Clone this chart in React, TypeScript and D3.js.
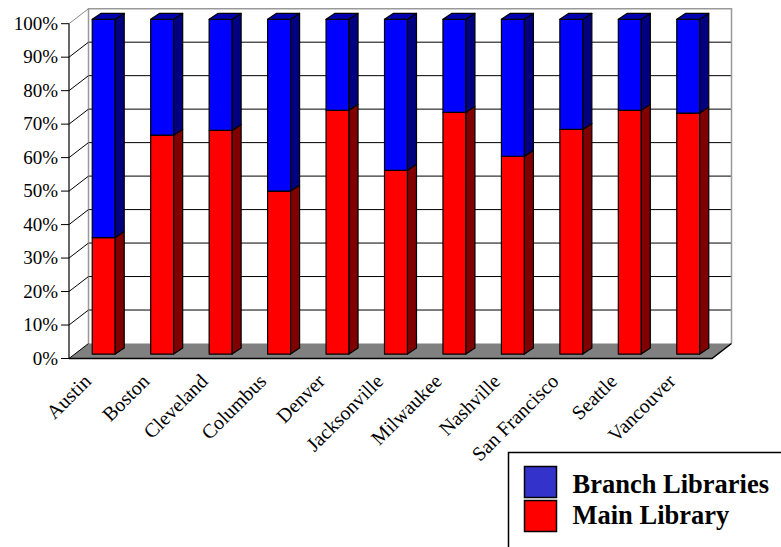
import React from "react";
import * as d3 from "d3";

// Share of library use by city, main library vs. branches (percent)
const cities = [
  "Austin", "Boston", "Cleveland", "Columbus", "Denver", "Jacksonville",
  "Milwaukee", "Nashville", "San Francisco", "Seattle", "Vancouver",
];
const mainLibrary = [34.8, 65.4, 66.8, 48.7, 72.8, 54.9, 72.2, 59.1, 67.1, 72.8, 72.0];
const branchLibraries = [65.2, 34.6, 33.2, 51.3, 27.2, 45.1, 27.8, 40.9, 32.9, 27.2, 28.0];
const yTicks = [0, 0.1, 0.2, 0.3, 0.4, 0.5, 0.6, 0.7, 0.8, 0.9, 1.0];

const W = 781;
const H = 547;
const FONT = "'Liberation Serif', 'Times New Roman', serif";

// front plane of the plot box and the 3D depth offset
const left = 69;
const right = 712;
const bottom = 358.5;
const top = 23.7;
const depthX = 19.5;
const depthY = -15;

// bars sit partway into the depth
const barShiftX = 5.5;
const barShiftY = -4.4;
const barDepthX = 9;
const barDepthY = -6;
const barWidth = 23;

const x = d3.scaleBand<string>().domain(cities).range([left, right]);
const y = d3.scaleLinear().domain([0, 1]).range([bottom, top]);
const pct = d3.format(".0%");

const pts = (arr: [number, number][]) => arr.map((p) => p.join(",")).join(" ");

export default function App() {
  const rows = cities.map((c, i) => {
    const total = mainLibrary[i] + branchLibraries[i];
    return { city: c, main: mainLibrary[i] / total, branch: branchLibraries[i] / total };
  });

  const stack = d3.stack<{ city: string; main: number; branch: number }>().keys(["main", "branch"]);
  const series = stack(rows);

  const faceColors: Record<string, { front: string; side: string; top: string }> = {
    main: { front: "#FF0000", side: "#800000", top: "#C00000" },
    branch: { front: "#0000FF", side: "#000080", top: "#0000B0" },
  };

  const backY = (v: number) => y(v) + depthY;

  return (
    <svg
      width={W}
      height={H}
      style={{ position: "fixed", left: 0, top: 0, background: "#fff" }}
      fontFamily={FONT}
    >
      {/* back wall */}
      <rect x={left + depthX} y={top + depthY} width={right - left} height={bottom - top} fill="#fff" />
      {yTicks.slice(1, -1).map((t) => (
        <line key={"g" + t} x1={left + depthX} x2={right + depthX} y1={backY(t)} y2={backY(t)} stroke="#000" strokeWidth={1} />
      ))}
      <polyline
        points={pts([
          [left + depthX, bottom + depthY],
          [left + depthX, top + depthY],
          [right + depthX, top + depthY],
          [right + depthX, bottom + depthY],
        ])}
        fill="none"
        stroke="#999"
        strokeWidth={1.5}
      />
      {/* floor */}
      <polygon
        points={pts([
          [left, bottom],
          [right, bottom],
          [right + depthX, bottom + depthY],
          [left + depthX, bottom + depthY],
        ])}
        fill="#808080"
      />
      <polyline
        points={pts([
          [left, bottom],
          [right, bottom],
          [right + depthX, bottom + depthY],
        ])}
        fill="none"
        stroke="#000"
        strokeWidth={1.5}
      />
      {/* side wall ticks */}
      {yTicks.map((t) => (
        <line
          key={"s" + t}
          x1={left}
          y1={y(t)}
          x2={left + depthX}
          y2={backY(t)}
          stroke={t === 1 ? "#888" : "#000"}
          strokeWidth={1}
        />
      ))}
      {/* value axis */}
      <line x1={left} x2={left} y1={top} y2={bottom} stroke="#000" strokeWidth={1.2} />
      {yTicks.map((t) => (
        <g key={"t" + t}>
          <line x1={left - 8} x2={left} y1={y(t)} y2={y(t)} stroke="#000" strokeWidth={1} />
          <text x={left - 11} y={y(t)} dy="0.33em" textAnchor="end" fontSize={19} fill="#000" fontFamily={FONT}>
            {pct(t)}
          </text>
        </g>
      ))}

      {/* bars */}
      {cities.map((c, i) => {
        const x0 = (x(c) ?? 0) + x.bandwidth() / 2 + barShiftX - barWidth / 2;
        const x1 = x0 + barWidth;
        return (
          <g key={c}>
            {series.map((s, si) => {
              const d = s[i];
              const yb = y(d[0]) + barShiftY;
              const yt = y(d[1]) + barShiftY;
              const col = faceColors[s.key];
              const isTop = si === series.length - 1;
              return (
                <g key={s.key} stroke="#000" strokeWidth={1.2} strokeLinejoin="round">
                  <rect x={x0} y={yt} width={barWidth} height={yb - yt} fill={col.front} />
                  <polygon
                    points={pts([
                      [x1, yb],
                      [x1, yt],
                      [x1 + barDepthX, yt + barDepthY],
                      [x1 + barDepthX, yb + barDepthY],
                    ])}
                    fill={col.side}
                  />
                  {isTop && (
                    <polygon
                      points={pts([
                        [x0, yt],
                        [x1, yt],
                        [x1 + barDepthX, yt + barDepthY],
                        [x0 + barDepthX, yt + barDepthY],
                      ])}
                      fill={col.top}
                    />
                  )}
                </g>
              );
            })}
          </g>
        );
      })}

      {/* category labels */}
      {cities.map((c) => {
        const cx = (x(c) ?? 0) + x.bandwidth() / 2 - 6;
        const cy = bottom + 24;
        return (
          <text
            key={"l" + c}
            x={cx}
            y={cy}
            textAnchor="end"
            fontSize={20}
            fill="#000"
            fontFamily={FONT}
            transform={`rotate(-45, ${cx}, ${cy})`}
          >
            {c}
          </text>
        );
      })}

      {/* legend */}
      <rect x={508.5} y={452.5} width={300} height={120} fill="#fff" stroke="#000" strokeWidth={1.5} />
      {[
        { label: "Branch Libraries", color: "#3333CC" },
        { label: "Main Library", color: "#FF0000" },
      ].map((l, i) => (
        <g key={l.label}>
          <rect x={524.5} y={466.5 + i * 34} width={32} height={31} fill={l.color} stroke="#000" strokeWidth={1.5} />
          <text x={572.5} y={492.5 + i * 31} fontSize={26.5} fontWeight="bold" fill="#000" fontFamily={FONT}>
            {l.label}
          </text>
        </g>
      ))}
    </svg>
  );
}
